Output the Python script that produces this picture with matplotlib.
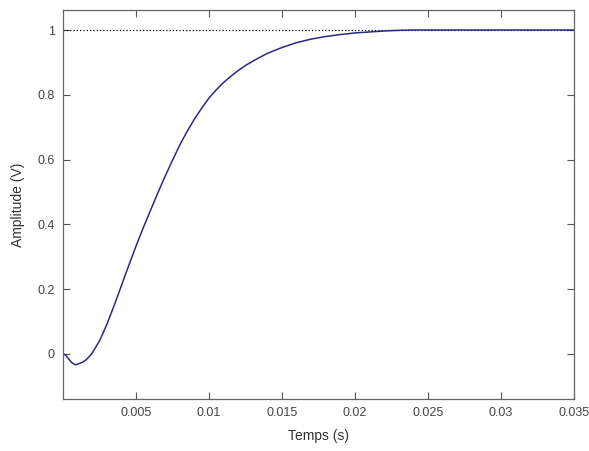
import matplotlib
matplotlib.use('Agg')
import numpy as np
import matplotlib.pyplot as plt

# step response
t = [0, 0.0001, 0.0002, 0.0004, 0.0006, 0.0008, 0.0009, 0.0010, 0.0012, 0.0014,
     0.0016, 0.0018, 0.0020, 0.0025, 0.0030, 0.0035, 0.0040, 0.0045, 0.0050,
     0.0055, 0.0060, 0.0065, 0.0070, 0.0075, 0.0080, 0.0085, 0.0090, 0.0095,
     0.0100, 0.0105, 0.0110, 0.0115, 0.0120, 0.0125, 0.0130, 0.0140, 0.0150,
     0.0160, 0.0170, 0.0180, 0.0190, 0.0200, 0.0210, 0.0220, 0.0230, 0.0240,
     0.0300, 0.0350]
v = [0, -0.001, -0.005, -0.016, -0.027, -0.0325, -0.033, -0.0316, -0.028, -0.024,
     -0.017, -0.008, 0.003, 0.0405, 0.091, 0.1495, 0.211, 0.273, 0.333,
     0.390, 0.444, 0.498, 0.549, 0.598, 0.645, 0.687, 0.725, 0.759,
     0.790, 0.8155, 0.838, 0.8575, 0.875, 0.8905, 0.904, 0.928, 0.946,
     0.961, 0.972, 0.980, 0.986, 0.991, 0.994, 0.997, 0.999, 1.0,
     1.0, 1.0]
final_value = 1.0
xticks = [0.005, 0.01, 0.015, 0.02, 0.025, 0.03, 0.035]
yticks = [0, 0.2, 0.4, 0.6, 0.8, 1]

plt.rcParams['font.family'] = ['Liberation Sans', 'DejaVu Sans']

fig = plt.figure(figsize=(5.89, 4.51), dpi=100)
ax = fig.add_axes([0.107, 0.1153, 0.8675, 0.8627])

ax.plot([0, 0.035], [final_value, final_value], ':', color='black', lw=0.9)
ax.plot(t, v, color='#2a2a86', lw=1.1)

ax.set_xlim(0, 0.035)
ax.set_ylim(-0.139, 1.062)
ax.set_xticks(xticks)
ax.set_xticklabels(['0.005', '0.01', '0.015', '0.02', '0.025', '0.03', '0.035'])
ax.set_yticks(yticks)
ax.set_yticklabels(['0', '0.2', '0.4', '0.6', '0.8', '1'])
ax.tick_params(direction='in', top=True, right=True, length=5, width=0.8,
               colors='#555555', labelsize=9, labelcolor='#444444', pad=6)
for s in ax.spines.values():
    s.set_color('#666666')
    s.set_linewidth(0.9)

ax.set_xlabel('Temps (s)', fontsize=10, color='#333333', labelpad=7)
ax.set_ylabel('Amplitude (V)', fontsize=10, color='#333333', labelpad=9)

fig.savefig('out.png', dpi=100)
